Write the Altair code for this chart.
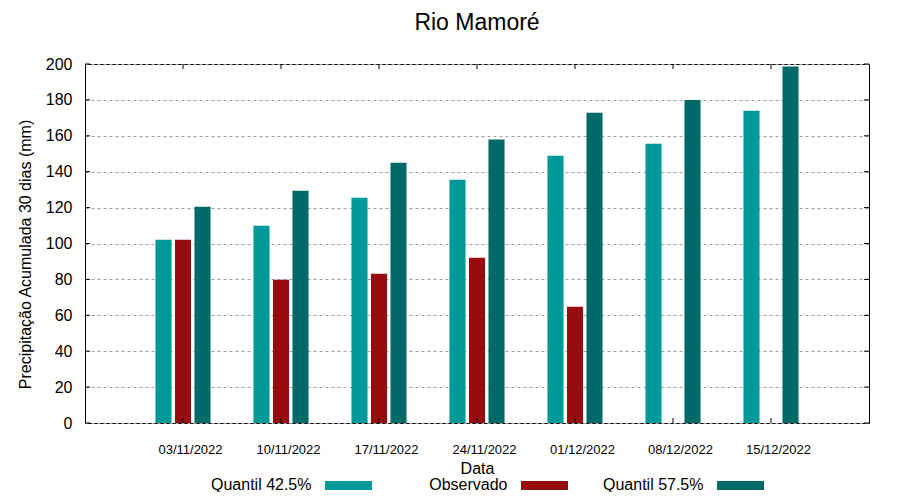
import json
import altair as alt
import pandas as pd

dates = ["03/11/2022", "10/11/2022", "17/11/2022", "24/11/2022",
         "01/12/2022", "08/12/2022", "15/12/2022"]
series = ["Quantil 42.5%", "Observado", "Quantil 57.5%"]
colors = ["#009999", "#970d0f", "#006a68"]
q425 = [102.1, 109.9, 125.5, 135.5, 148.9, 155.6, 174.0]
obs = [102.1, 79.8, 83.2, 92.1, 64.8, None, None]
q575 = [120.5, 129.4, 145.0, 157.9, 172.9, 180.0, 198.6]
y_ticks = [0, 20, 40, 60, 80, 100, 120, 140, 160, 180, 200]

offsets = {"Quantil 42.5%": -0.199, "Observado": 0.0, "Quantil 57.5%": 0.199}
half_w = 0.082

rows = []
for i, d in enumerate(dates):
    for s, vals in zip(series, [q425, obs, q575]):
        v = vals[i]
        if v is None:
            continue
        rows.append({"g": i + 1, "date": d, "series": s, "value": v,
                     "off": offsets[s]})
df = pd.DataFrame(rows)

W, H = 784, 359
FONT = "Liberation Sans"

xscale = alt.Scale(domain=[0, 8], nice=False, zero=False, padding=0)
yscale = alt.Scale(domain=[0, 200], nice=False, padding=0)
cscale = alt.Scale(domain=series, range=colors)

label_expr = json.dumps(dates) + "[datum.value - 1]"

xaxis = alt.Axis(values=list(range(1, 8)), labelExpr=label_expr,
                 grid=False, ticks=False, tickSize=0, domain=False,
                 labelFontSize=13, labelFont=FONT,
                 labelColor="black", labelOffset=7,
                 labelPadding=20, title="Data", titleFont=FONT,
                 titleFontSize=16, titleFontWeight="normal",
                 titleColor="black", titleX=W / 2, titleY=45,
                 titleBaseline="middle", titleAlign="center")
yaxis = alt.Axis(values=y_ticks, grid=True, gridColor="#a0a0a0",
                 gridDash=[3, 3], gridWidth=1, ticks=False,
                 tickSize=0, domain=False, labelFontSize=16,
                 labelFont=FONT, labelColor="black", labelPadding=13,
                 title="Precipitação Acumulada 30 dias (mm)",
                 titleFont=FONT, titleFontSize=16,
                 titleFontWeight="normal", titleColor="black",
                 titleX=-60, titleY=190, titleAngle=-90,
                 titleBaseline="middle", titleAlign="center")

bars = alt.Chart(df).transform_calculate(
    x1=f"datum.g + datum.off - {half_w}",
    x2=f"datum.g + datum.off + {half_w}",
).mark_bar(orient="vertical").encode(
    x=alt.X("x1:Q", scale=xscale, axis=xaxis),
    x2="x2:Q",
    y=alt.Y("value:Q", scale=yscale, axis=yaxis),
    y2=alt.datum(0),
    color=alt.Color("series:N", scale=cscale, legend=None),
)

gdf = pd.DataFrame({"g": list(range(1, 8))})
ydf = pd.DataFrame({"v": y_ticks})

top_ticks = alt.Chart(gdf).mark_rule(color="black").encode(
    x=alt.X("g:Q", scale=xscale, axis=xaxis), y=alt.value(0), y2=alt.value(5))
bot_ticks = alt.Chart(gdf).mark_rule(color="black").encode(
    x=alt.X("g:Q", scale=xscale, axis=xaxis), y=alt.value(H), y2=alt.value(H - 5))
left_ticks = alt.Chart(ydf).mark_rule(color="black").encode(
    y=alt.Y("v:Q", scale=yscale, axis=yaxis), x=alt.value(0), x2=alt.value(5))
right_ticks = alt.Chart(ydf).mark_rule(color="black").encode(
    y=alt.Y("v:Q", scale=yscale, axis=yaxis), x=alt.value(W), x2=alt.value(W - 5))

main = alt.layer(bars, top_ticks, bot_ticks, left_ticks, right_ticks)

ldf = pd.DataFrame({"series": series, "idx": [0, 1, 2]})
lscale = alt.Scale(domain=[0, 2], range=[263.5, 655.5], nice=False, zero=False)

leg_sw = alt.Chart(ldf).mark_tick(orient="horizontal", size=47, thickness=9,
                                  opacity=1).encode(
    x=alt.X("idx:Q", scale=lscale, axis=None),
    y=alt.value(421.5),
    color=alt.Color("series:N", scale=cscale, legend=None),
)
leg_tx = alt.Chart(ldf).mark_text(align="right", baseline="middle", dx=-37,
                                  fontSize=16, font=FONT, color="black").encode(
    x=alt.X("idx:Q", scale=lscale, axis=None),
    y=alt.value(421),
    text="series:N",
)

chart = alt.layer(main, leg_sw, leg_tx).resolve_scale(x="independent").properties(
    width=W, height=H,
    title=alt.TitleParams("Rio Mamoré", fontSize=23, font=FONT,
                          fontWeight="normal", color="black", offset=21,
                          anchor="middle"),
    autosize=alt.AutoSizeParams(type="none"),
    padding={"left": 77, "top": 56, "right": 23, "bottom": 69},
).configure_view(stroke="black", strokeWidth=1)

chart.save("out.html", embed_options={"renderer": "svg", "actions": False})
